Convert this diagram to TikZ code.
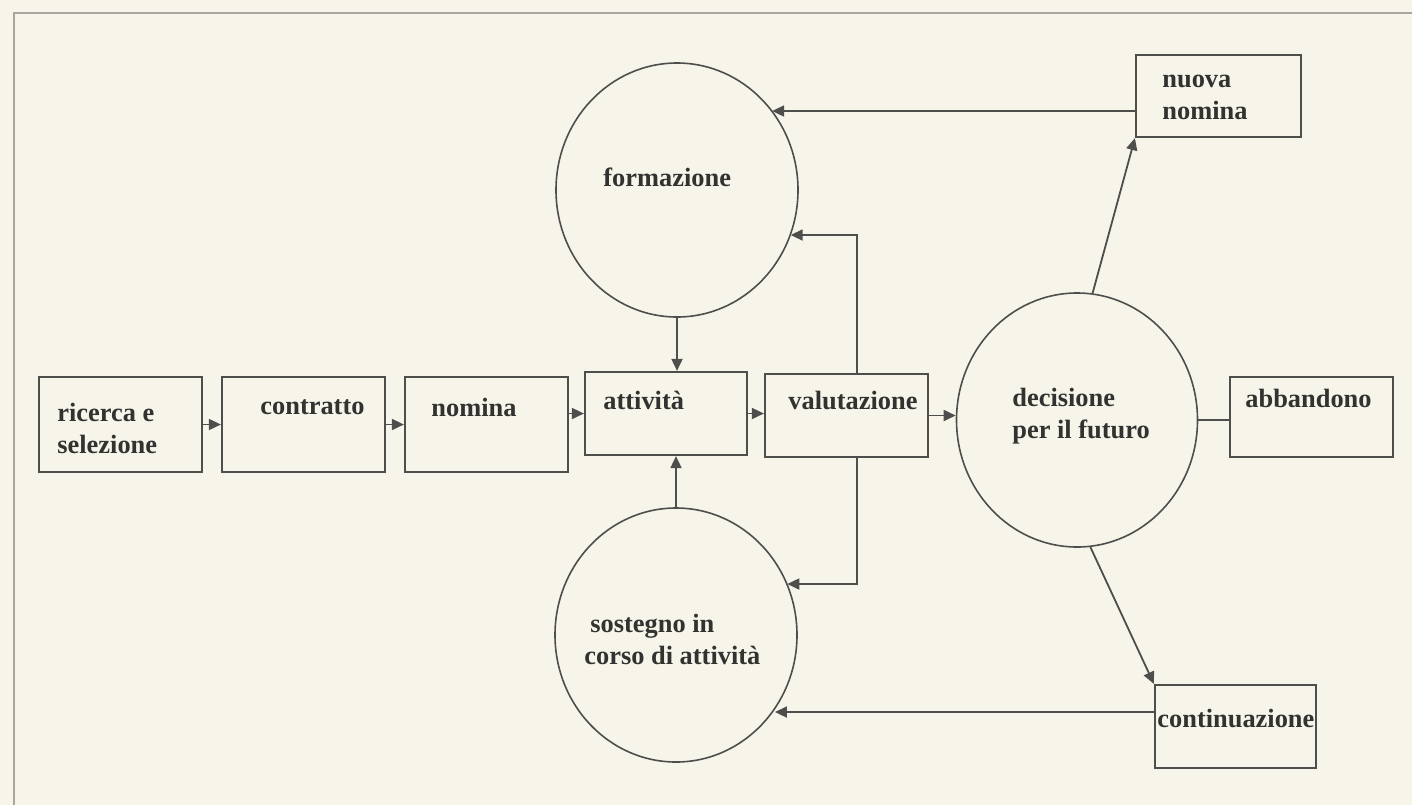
\documentclass[tikz,border=0pt]{standalone}
\usepackage{fontspec}
\setmainfont{Liberation Serif}
\usetikzlibrary{arrows.meta,shapes.geometric}
\definecolor{paper}{RGB}{247,244,234}
\definecolor{ink}{RGB}{78,78,76}
\definecolor{txt}{RGB}{50,50,48}
\definecolor{framec}{RGB}{168,166,158}
\begin{document}
\begin{tikzpicture}[x=0.5pt,y=-0.5pt,
  box/.style={draw=ink,line width=1.1pt,rectangle,inner sep=0pt},
  oval/.style={draw=ink,line width=0.8pt,ellipse,inner sep=0pt,minimum width=121pt,minimum height=127pt},
  lbl/.style={inner sep=0pt,anchor=west,align=left,text=txt,font=\fontsize{13.2}{16}\selectfont\bfseries},
  conn/.style={draw=ink,line width=0.9pt},
  arr/.style={conn,-{Triangle[length=6pt,width=5.5pt]}}]
\useasboundingbox (0,0) rectangle (1412,805);
\fill[paper] (0,0) rectangle (1412,805);
\draw[framec,line width=1.2pt] (14,805) -- (14,13) -- (1412,13);

% boxes
\node[box,minimum width=81.5pt,minimum height=47.5pt] (ricerca) at (120.5,424.5) {};
\node[box,minimum width=81.5pt,minimum height=47.5pt] (contratto) at (303.5,424.5) {};
\node[box,minimum width=81.5pt,minimum height=47.5pt] (nomina) at (486.5,424.5) {};
\node[box,minimum width=81pt,minimum height=41.5pt] (attivita) at (666,413.5) {};
\node[box,minimum width=81.5pt,minimum height=41.5pt] (valutazione) at (846.5,415.5) {};
\node[box,minimum width=81.5pt,minimum height=40pt] (abbandono) at (1311.5,417) {};
\node[box,minimum width=82.5pt,minimum height=41pt] (nuova) at (1218.5,96) {};
\node[box,minimum width=80.5pt,minimum height=41.5pt] (continuazione) at (1235.5,726.5) {};

% ovals
\node[oval] (formazione) at (677,190) {};
\node[oval] (sostegno) at (676,635) {};
\node[oval,minimum width=120.5pt] (decisione) at (1077,420) {};

% labels
\node[lbl] (t-ricerca) at (57,428) {ricerca e\\selezione};
\node[lbl] (t-contratto) at (260,407) {contratto};
\node[lbl] (t-nomina) at (431,407) {nomina};
\node[lbl] (t-attivita) at (603,400) {attività};
\node[lbl] (t-valutazione) at (788,400) {valutazione};
\node[lbl] (t-abbandono) at (1245,398) {abbandono};
\node[lbl] (t-formazione) at (603,177) {formazione};
\node[lbl] (t-sostegno) at (584,639) {\hspace*{3pt}sostegno in\\corso di attività};
\node[lbl] (t-decisione) at (1012,416) {decisione\\per il futuro};
\node[lbl] (t-nuova) at (1162,97) {nuova\\nomina};
\node[lbl] (t-continuazione) at (1157,718) {continuazione};

% level coordinates
\coordinate (yNN) at (0,111);
\coordinate (yF) at (0,235);
\coordinate (yS) at (0,584);
\coordinate (yC) at (0,712);
\coordinate (vt) at ([xshift=5.25pt]valutazione.north);
\coordinate (vb) at ([xshift=5.25pt]valutazione.south);

% main row
\draw[arr] (ricerca.east) -- (contratto.west);
\draw[arr] (contratto.east) -- (nomina.west);
\draw[arr] (nomina.east |- attivita.west) -- (attivita.west);
\draw[arr] (attivita.east) -- (attivita.east -| valutazione.west);
\draw[arr] (valutazione.east) -- (valutazione.east -| decisione.west);
\draw[conn] (decisione.east) -- (decisione.east -| abbandono.west);

% vertical inputs to attivita
\draw[arr] (formazione.south) -- (formazione.south |- attivita.north);
\draw[arr] (sostegno.north) -- (sostegno.north |- attivita.south);

% feedback from valutazione
\draw[arr] (vt) -- (vt |- yF) -- (yF -| formazione.-22);
\draw[arr] (vb) -- (vb |- yS) -- (yS -| sostegno.25);

% decisione outcomes
\draw[arr] (decisione.83) -- (nuova.south west);
\draw[arr] (decisione.-84) -- (continuazione.north west);
\draw[arr] (nuova.west |- yNN) -- (yNN -| formazione.40);
\draw[arr] (continuazione.west |- yC) -- (yC -| sostegno.-37.5);
\end{tikzpicture}
\end{document}
